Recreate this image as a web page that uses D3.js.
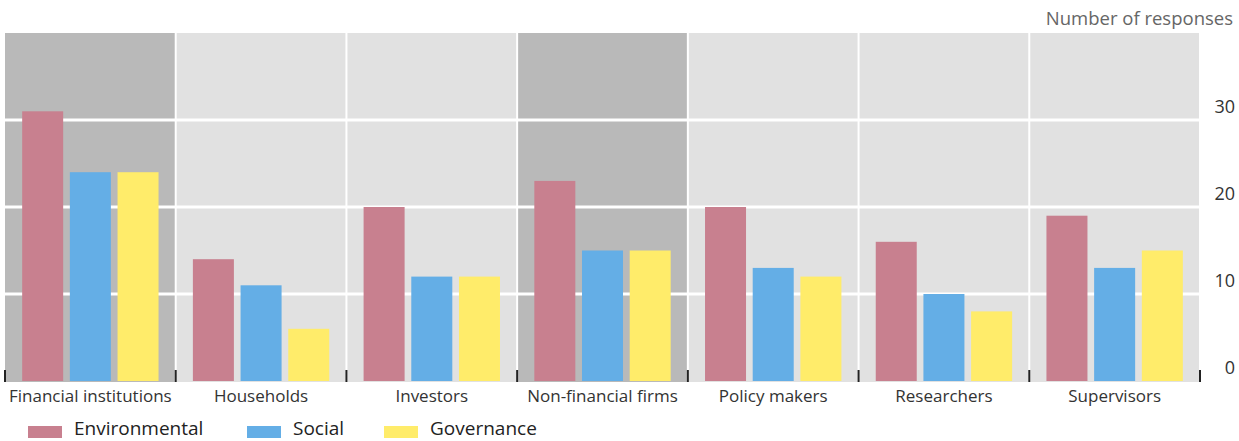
<!DOCTYPE html>
<html>
<head>
<meta charset="utf-8">
<script src="https://cdn.jsdelivr.net/npm/d3@7"></script>
<style>
  html, body { margin: 0; padding: 0; background: #ffffff; }
  svg { display: block; font-family: "Open Sans", "Noto Sans", sans-serif; }
</style>
</head>
<body>
<svg id="chart" width="1239" height="441"></svg>
<script>
const categories = ["Financial institutions", "Households", "Investors", "Non-financial firms", "Policy makers", "Researchers", "Supervisors"];
const seriesNames = ["Environmental", "Social", "Governance"];
const environmental = [31, 14, 20, 23, 20, 16, 19];
const social = [24, 11, 12, 15, 13, 10, 13];
const governance = [24, 6, 12, 15, 12, 8, 15];
const highlighted = ["Financial institutions", "Non-financial firms"];
const yTicks = [0, 10, 20, 30];
const yMax = 40;
const unitLabel = "Number of responses";

const colors = { Environmental: "#c8808f", Social: "#64aee6", Governance: "#ffec6a" };
const seriesValues = { Environmental: environmental, Social: social, Governance: governance };

const svg = d3.select("#chart");
const plotLeft = 5, plotRight = 1200, plotTop = 33, plotBottom = 381;

const x = d3.scaleBand().domain(categories).range([plotLeft, plotRight]).paddingInner(0).paddingOuter(0);
const x1 = d3.scaleBand().domain(seriesNames).range([0, x.bandwidth()]).paddingInner(0.14).paddingOuter(0.36);
const y = d3.scaleLinear().domain([0, yMax]).range([plotBottom, plotTop]);

// panel backgrounds
svg.append("g").selectAll("rect").data(categories).join("rect")
  .attr("x", d => x(d)).attr("y", plotTop)
  .attr("width", x.bandwidth()).attr("height", plotBottom - plotTop + 1)
  .attr("fill", d => highlighted.includes(d) ? "#b9b9b9" : "#e1e1e1");

// horizontal gridlines
svg.append("g").selectAll("line").data(yTicks.filter(t => t > 0)).join("line")
  .attr("x1", plotLeft).attr("x2", plotRight)
  .attr("y1", d => y(d)).attr("y2", d => y(d))
  .attr("stroke", "#ffffff").attr("stroke-width", 3);

// vertical separators
const bounds = categories.slice(1).map(c => x(c)).concat([plotRight]);
svg.append("g").selectAll("line").data(bounds).join("line")
  .attr("x1", d => d).attr("x2", d => d)
  .attr("y1", plotTop).attr("y2", plotBottom + 1)
  .attr("stroke", "#ffffff").attr("stroke-width", 2);

// bars
const groups = svg.append("g").selectAll("g").data(categories).join("g")
  .attr("transform", d => `translate(${x(d)},0)`);
groups.selectAll("rect").data((c, i) => seriesNames.map(s => ({ s, v: seriesValues[s][i] }))).join("rect")
  .attr("x", d => x1(d.s)).attr("width", x1.bandwidth())
  .attr("y", d => y(d.v)).attr("height", d => y(0) - y(d.v))
  .attr("fill", d => colors[d.s]);

// bottom tick marks at panel boundaries
svg.append("g").selectAll("line").data([plotLeft].concat(bounds)).join("line")
  .attr("x1", d => d).attr("x2", d => d)
  .attr("y1", plotBottom - 11).attr("y2", plotBottom + 1)
  .attr("stroke", "#222").attr("stroke-width", 2);

// category labels
svg.append("g").selectAll("text").data(categories).join("text")
  .attr("x", d => x(d) + x.bandwidth() / 2).attr("y", 402)
  .attr("text-anchor", "middle").attr("font-size", 17).attr("fill", "#333")
  .text(d => d);

// y labels on right
svg.append("g").selectAll("text").data(yTicks).join("text")
  .attr("x", 1235).attr("y", d => y(d) - 7)
  .attr("text-anchor", "end").attr("font-size", 18).attr("fill", "#333")
  .text(d => d);

// unit label
svg.append("text").attr("x", 1233).attr("y", 25)
  .attr("text-anchor", "end").attr("font-size", 18.5).attr("fill", "#666")
  .text(unitLabel);

// legend
const legendX = [28, 247, 384];
const legend = svg.append("g").selectAll("g").data(seriesNames).join("g")
  .attr("transform", (d, i) => `translate(${legendX[i]},0)`);
legend.append("rect").attr("x", 0).attr("y", 426).attr("width", 34).attr("height", 12)
  .attr("fill", d => colors[d]);
legend.append("text").attr("x", 46).attr("y", 435)
  .attr("font-size", 19).attr("fill", "#222").text(d => d);
</script>
</body>
</html>
